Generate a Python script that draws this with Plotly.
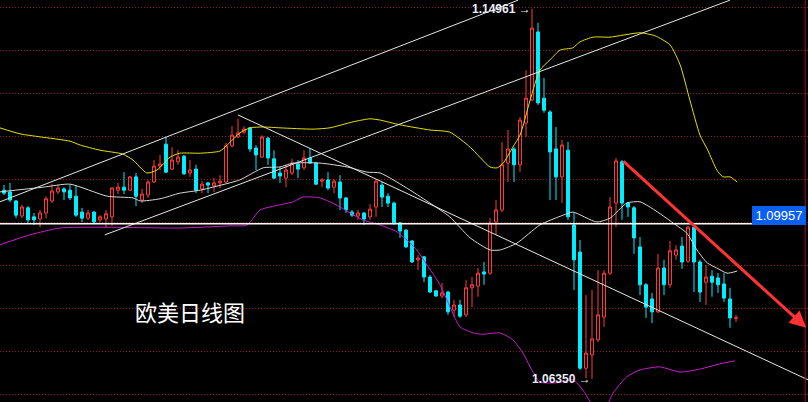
import plotly.graph_objects as go

# ---------------- data (EUR/USD daily) ----------------
idx = list(range(-1, 123))
opens = [1.1121,1.1074,1.1070,1.1049,1.1014,1.1033,1.1012,1.1007,1.1021,1.1049,1.1070,1.1077,1.1074,1.1060,1.1023,1.1009,1.1023,1.1005,1.1007,1.1012,
         1.1074,1.1081,1.1074,1.1105,1.1051,1.1063,1.1093,1.1130,1.1181,1.1123,1.1140,1.1153,1.1114,1.1123,1.1077,1.1091,1.1084,1.1091,1.1093,1.1177,
         1.1198,1.1209,1.1219,1.1172,1.1151,1.1195,1.1147,1.1114,1.1102,1.1114,1.1135,1.1126,1.1149,1.1137,1.1095,1.1098,1.1081,1.1093,1.1056,1.1023,
         1.1014,1.1021,1.1012,1.1035,1.1086,1.1060,1.1044,1.0998,1.0981,1.0956,1.0912,1.0919,1.0872,1.0840,1.0828,1.0837,1.0795,1.0807,1.0784,1.0847,
         1.0851,1.0884,1.0881,1.1000,1.1028,1.1137,1.1170,1.1133,1.1230,1.1284,1.1442,1.1288,1.1256,1.1170,1.1105,1.1167,1.0993,1.0930,1.0660,1.0691,
         1.0726,1.0779,1.0881,1.1044,1.1140,1.1044,1.1033,1.0942,1.0854,1.0821,1.0791,1.0893,1.0854,1.0923,1.0944,1.0909,1.0988,1.0907,1.0860,1.0874,
         1.0870,1.0856,1.0821,1.0776]
highs = [1.1133,1.1086,1.1091,1.1051,1.1040,1.1037,1.1021,1.1028,1.1060,1.1088,1.1086,1.1081,1.1086,1.1086,1.1033,1.1028,1.1026,1.1016,1.1028,1.1081,
         1.1091,1.1116,1.1107,1.1114,1.1077,1.1098,1.1144,1.1156,1.1198,1.1174,1.1167,1.1156,1.1144,1.1133,1.1095,1.1093,1.1102,1.1109,1.1184,1.1223,
         1.1240,1.1223,1.1221,1.1179,1.1202,1.1198,1.1167,1.1128,1.1133,1.1147,1.1144,1.1167,1.1172,1.1140,1.1102,1.1116,1.1100,1.1109,1.1058,1.1028,
         1.1028,1.1023,1.1042,1.1098,1.1093,1.1067,1.1047,1.1000,1.0984,1.0958,1.0923,1.0921,1.0877,1.0842,1.0858,1.0840,1.0819,1.0819,1.0865,1.0872,
         1.0893,1.0907,1.1009,1.1051,1.1186,1.1214,1.1174,1.1244,1.1353,1.14961,1.1463,1.1335,1.1260,1.1221,1.1191,1.1186,1.1021,1.0958,1.0830,1.0842,
         1.0888,1.0888,1.1058,1.1149,1.1144,1.1047,1.1037,1.0965,1.0858,1.0835,1.0926,1.0912,1.0956,1.0946,1.0965,1.0991,1.0991,1.0912,1.0900,1.0888,
         1.0881,1.0881,1.0847,1.0784]
lows = [1.1074,1.1063,1.1046,1.1009,1.1009,1.0998,1.0993,1.0988,1.1009,1.1044,1.1065,1.1051,1.1051,1.1012,1.1000,1.1005,1.0995,1.1000,1.0986,1.0991,
        1.1065,1.1065,1.1072,1.1037,1.1044,1.1056,1.1091,1.1121,1.1114,1.1121,1.1133,1.1109,1.1105,1.1067,1.1067,1.1067,1.1070,1.1079,1.1091,1.1174,
        1.1195,1.1205,1.1163,1.1121,1.1149,1.1133,1.1100,1.1091,1.1081,1.1109,1.1102,1.1121,1.1135,1.1086,1.1081,1.1074,1.1067,1.1028,1.1021,1.1012,
        1.1005,1.0993,1.1005,1.1012,1.1035,1.1035,1.0993,1.0963,1.0940,1.0905,1.0888,1.0860,1.0835,1.0826,1.0823,1.0784,1.0779,1.0777,1.0779,1.0802,
        1.0826,1.0854,1.0877,1.0970,1.1023,1.1093,1.1093,1.1116,1.1198,1.1281,1.1272,1.1254,1.1051,1.1051,1.1044,1.1005,1.0842,1.0656,1.0637,1.0635,
        1.0721,1.0756,1.0877,1.0988,1.1005,1.1012,1.0926,1.0830,1.0777,1.0765,1.0788,1.0830,1.0847,1.0912,1.0891,1.0905,1.0837,1.0814,1.0807,1.0826,
        1.0835,1.0814,1.0754,1.0767]
closes = [1.1081,1.1067,1.1051,1.1016,1.1035,1.1005,1.1005,1.1021,1.1054,1.1072,1.1079,1.1070,1.1056,1.1016,1.1009,1.1021,1.1000,1.1012,1.1019,1.1079,
          1.1081,1.1074,1.1105,1.1060,1.1065,1.1093,1.1130,1.1135,1.1116,1.1144,1.1151,1.1112,1.1121,1.1074,1.1088,1.1086,1.1091,1.1095,1.1177,1.1202,
          1.1207,1.1216,1.1170,1.1156,1.1198,1.1149,1.1102,1.1107,1.1121,1.1137,1.1123,1.1149,1.1137,1.1088,1.1098,1.1079,1.1095,1.1056,1.1028,1.1016,
          1.1021,1.1007,1.1030,1.1095,1.1058,1.1044,1.0998,1.0979,1.0942,1.0907,1.0916,1.0872,1.0837,1.0828,1.0835,1.0791,1.0807,1.0781,1.0847,1.0854,
          1.0881,1.0879,1.0998,1.1028,1.1133,1.1170,1.1133,1.1237,1.1288,1.1451,1.1277,1.1260,1.1163,1.1105,1.1179,1.1012,1.0912,1.0660,1.0695,1.0728,
          1.0784,1.0881,1.1035,1.1142,1.1044,1.1035,1.0963,1.0854,1.0802,1.0791,1.0893,1.0854,1.0933,1.0935,1.0907,1.0988,1.0907,1.0837,1.0872,1.0860,
          1.0854,1.0823,1.0777,1.0777]

# Bollinger bands
upper_x = [-0.7,2.7,6,11,12.7,16,19.8,21.5,23.8,25.5,27.7,29.3,32.7,36,37.2,39.3,41,43.2,46,51.5,54.3,58.2,61,62.7,66,71,74.3,77.7,81,82.2,83.2,84.8,86,87.7,89.3,91,92.7,94.8,96,98.2,101,106,108.5,111,112.7,114.3,116,117.3,118.8,119.8,121,122.2]
upper_y = [1.1219,1.1205,1.1198,1.1188,1.1179,1.1167,1.1158,1.1144,1.1114,1.1121,1.1151,1.1160,1.1160,1.1165,1.1179,1.1207,1.1219,1.1221,1.1219,1.1216,1.1219,1.1233,1.1240,1.1237,1.1226,1.1214,1.1209,1.1174,1.1128,1.1126,1.1137,1.1174,1.1202,1.1284,1.1353,1.1377,1.1400,1.1405,1.1419,1.1430,1.1430,1.1440,1.1433,1.1412,1.1365,1.1284,1.1202,1.1167,1.1121,1.1105,1.1105,1.1093]
mid_x = [-0.7,6.5,11,17.2,21.5,22.7,26,29.3,32.7,34.8,39.3,43.2,46,48.2,52.7,57.2,60.5,62.7,67.7,71,74.3,77.7,81,82.7,85.5,89.3,93.2,94.8,98.8,101,103.8,106,108.2,111.5,113.8,115.5,117.2,118.8,120.5,122.2]
mid_y = [1.1070,1.1081,1.1088,1.1060,1.1056,1.1049,1.1054,1.1067,1.1074,1.1081,1.1098,1.1126,1.1128,1.1137,1.1137,1.1128,1.1116,1.1114,1.1074,1.1044,1.1012,1.0963,1.0935,1.0935,1.0951,1.0993,1.1016,1.1023,1.1000,1.1009,1.1044,1.1047,1.1030,1.0998,1.0974,1.0935,1.0905,1.0893,1.0881,1.0886]
lower_x = [-0.7,4.3,9.3,16,29.3,37.7,40.5,42.7,46,48.2,49.8,52.7,54.3,56,57.7,59.8,62.7,65.5,67.7,68.8,70.5,72.7,74.8,76,78.2,79.8,82.7,84.8,86.5,87.7,89.3,92.2,94.8,96.5,97.7,99.3,101.5,103.8,106,109.3,112.7,116,119.3,121.8]
lower_y = [1.0947,1.0970,1.0986,1.0988,1.0986,1.0991,1.0993,1.1028,1.1040,1.1047,1.1058,1.1056,1.1047,1.1035,1.1021,1.1005,1.0993,1.0977,1.0951,1.0935,1.0900,1.0853,1.0788,1.0756,1.0742,1.0739,1.0742,1.0726,1.0695,1.0663,1.0628,1.0626,1.0633,1.0609,1.0581,1.0540,1.0602,1.0640,1.0656,1.0663,1.0651,1.0658,1.0670,1.0677]

# trend lines (index, price) endpoints
trend_lines = [((-0.67, 1.1047), (85.7, 1.1516)),
               ((16.8, 1.0970), (121.0, 1.1516)),
               ((39.0, 1.1249), (134.0, 1.0633))]
arrow_start = (103.0, 1.1144)
arrow_end = (133.7, 1.0754)

last_price = 1.09957
high_label = (88, 1.14961)
low_label = (98, 1.06350)
grid_prices = [1.06, 1.07, 1.08, 1.09, 1.10, 1.11, 1.12, 1.13, 1.14, 1.15]

RED = "#ff3c3c"
CYAN = "#00eeff"

fig = go.Figure()
fig.add_trace(go.Candlestick(
    x=idx, open=opens, high=highs, low=lows, close=closes,
    increasing=dict(line=dict(color=RED, width=1), fillcolor="#000000"),
    decreasing=dict(line=dict(color=CYAN, width=1), fillcolor=CYAN),
    whiskerwidth=0, hoverinfo="skip", showlegend=False))

fig.add_trace(go.Scatter(x=upper_x, y=upper_y, mode="lines", line=dict(color="#e8e000", width=1, shape="spline", smoothing=0.6), hoverinfo="skip", showlegend=False))
fig.add_trace(go.Scatter(x=mid_x, y=mid_y, mode="lines", line=dict(color="#d8d8d8", width=1, shape="spline", smoothing=0.6), hoverinfo="skip", showlegend=False))
fig.add_trace(go.Scatter(x=lower_x, y=lower_y, mode="lines", line=dict(color="#c81ec8", width=1, shape="spline", smoothing=0.6), hoverinfo="skip", showlegend=False))

shapes = []
for (x0, y0), (x1, y1) in trend_lines:
    shapes.append(dict(type="line", xref="x", yref="y", x0=x0, y0=y0, x1=x1, y1=y1,
                       line=dict(color="#e6e6e6", width=1)))
shapes.append(dict(type="line", xref="paper", yref="y", x0=0, x1=0.931, y0=last_price, y1=last_price,
                   line=dict(color="#ffffff", width=1.5)))
shapes.append(dict(type="line", xref="paper", yref="paper", x0=0.9965, x1=0.9965, y0=0, y1=1,
                   line=dict(color="#a01010", width=1)))
fig.update_layout(shapes=shapes)

label_font = dict(family="Liberation Sans, Arial", size=12, color="#e8eef8")
annotations = [
    dict(x=high_label[0], y=high_label[1], xref="x", yref="y", text="<b>1.14961</b> →", showarrow=False,
         xanchor="right", yanchor="middle", xshift=1, font=label_font),
    dict(x=low_label[0], y=low_label[1], xref="x", yref="y", text="<b>1.06350</b> →", showarrow=False,
         xanchor="right", yanchor="middle", xshift=1, font=label_font),
    dict(x=0.9647, y=last_price, xref="paper", yref="y", text="1.09957", showarrow=False,
         xanchor="center", yanchor="bottom", yshift=-1, bgcolor="#0a5ff0", borderwidth=0,
         borderpad=2, width=50, font=dict(family="Liberation Sans, Arial", size=13, color="#ffffff")),
    dict(x=0.235, y=0.226, xref="paper", yref="paper", text="欧美日线图", showarrow=False,
         xanchor="center", yanchor="middle", font=dict(family="Noto Sans CJK SC", size=22, color="#ffffff")),
    dict(x=arrow_end[0], y=arrow_end[1], xref="x", yref="y", ax=arrow_start[0], ay=arrow_start[1],
         axref="x", ayref="y", text="", showarrow=True, arrowhead=2, arrowsize=1.1, arrowwidth=3,
         arrowcolor="#ff3333"),
]
fig.update_layout(annotations=annotations)

fig.update_layout(
    width=808, height=402, margin=dict(l=0, r=0, t=0, b=0),
    paper_bgcolor="#000000", plot_bgcolor="#000000",
    xaxis=dict(range=[-0.667, 134.0], visible=False, rangeslider=dict(visible=False), fixedrange=True),
    yaxis=dict(range=[1.05814, 1.15163], tickvals=grid_prices, showticklabels=False, showgrid=True,
               gridcolor="#8c1a1a", griddash="1px,2px", gridwidth=1, zeroline=False, fixedrange=True),
)

fig.write_html("out.html", config={"displayModeBar": False},
               post_script="document.body.style.margin='0';document.body.style.background='#000';")
